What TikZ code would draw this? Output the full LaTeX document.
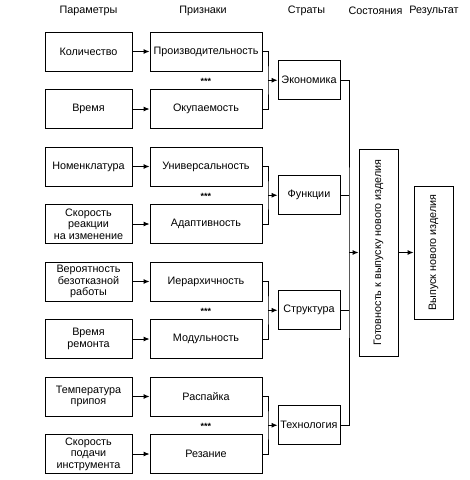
\documentclass[tikz,border=0pt]{standalone}
\usepackage{fontspec}
\setmainfont{Liberation Sans}
\usetikzlibrary{arrows.meta}
\tikzset{
  box/.style={draw, line width=0.9pt, minimum height=39pt, align=center, inner sep=1pt},
  parbox/.style={box, minimum width=87pt},
  sigbox/.style={box, minimum width=112pt},
  strbox/.style={box, minimum width=62pt},
  arr/.style={-{Latex[length=6pt,width=5pt]}, line width=0.9pt},
  ln/.style={line width=0.9pt},
  dots/.style={font=\small\bfseries, inner sep=0pt}
}
\begin{document}
\begin{tikzpicture}[x=1pt, y=-1pt, font=\fontsize{10.8}{11.6}\selectfont]
\useasboundingbox (0,0) rectangle (470,480);
\node (h1) at (88.5,11) {Параметры};
\node (h2) at (203,11) {Признаки};
\node (h3) at (306.5,11) {Страты};
\node (h4) at (375.5,11) {Состояния};
\node (h5) at (434,11) {Результат};

\node[parbox] (p1) at (88.5,51.5) {Количество};
\node[parbox] (p2) at (88.5,109) {Время};
\node[parbox] (p3) at (88.5,166.5) {Номенклатура};
\node[parbox] (p4) at (88.5,224) {Скорость\\реакции\\на изменение};
\node[parbox] (p5) at (88.5,281.5) {Вероятность\\безотказной\\работы};
\node[parbox] (p6) at (88.5,339) {Время\\ремонта};
\node[parbox] (p7) at (88.5,396.5) {Температура\\припоя};
\node[parbox] (p8) at (88.5,454) {Скорость\\подачи\\инструмента};

\node[sigbox] (s1) at (206,51.5) {Производительность};
\node[sigbox] (s2) at (206,109) {Окупаемость};
\node[sigbox] (s3) at (206,166.5) {Универсальность};
\node[sigbox] (s4) at (206,224) {Адаптивность};
\node[sigbox] (s5) at (206,281.5) {Иерархичность};
\node[sigbox] (s6) at (206,339) {Модульность};
\node[sigbox] (s7) at (206,396.5) {Распайка};
\node[sigbox] (s8) at (206,454) {Резание};

\foreach \i in {1,...,8}
  \draw[arr] (p\i) -- (s\i);

\node[strbox] (t1) at (309,80.25) {Экономика};
\node[strbox] (t2) at (309,195.25) {Функции};
\node[strbox] (t3) at (309,310.25) {Структура};
\node[strbox] (t4) at (309,425.25) {Технология};

\foreach \k/\a/\b in {1/1/2,2/3/4,3/5/6,4/7/8}{
  \node[dots] (d\k) at (206,81.5+115*\k-115) {***};
  \coordinate (j\k) at (268,80.25+115*\k-115);
  \draw[ln] (s\a.east) -| (j\k) |- (s\b.east);
  \draw[arr] (j\k) -- (t\k);
}

\node[box, rotate=90, minimum width=207pt] (g) at (378.5,252.5) {Готовность к выпуску нового изделия};
\node[box, rotate=90, minimum width=133pt] (r) at (433.5,252.5) {Выпуск нового изделия};

\coordinate (k) at (349,252.5);
\draw[ln] (t1.east) -| (k) |- (t4.east);
\draw[ln] (t2.east) -- (t2.east -| k);
\draw[ln] (t3.east) -- (t3.east -| k);
\draw[arr] (k) -- (g);
\draw[arr] (g) -- (r);
\end{tikzpicture}
\end{document}
